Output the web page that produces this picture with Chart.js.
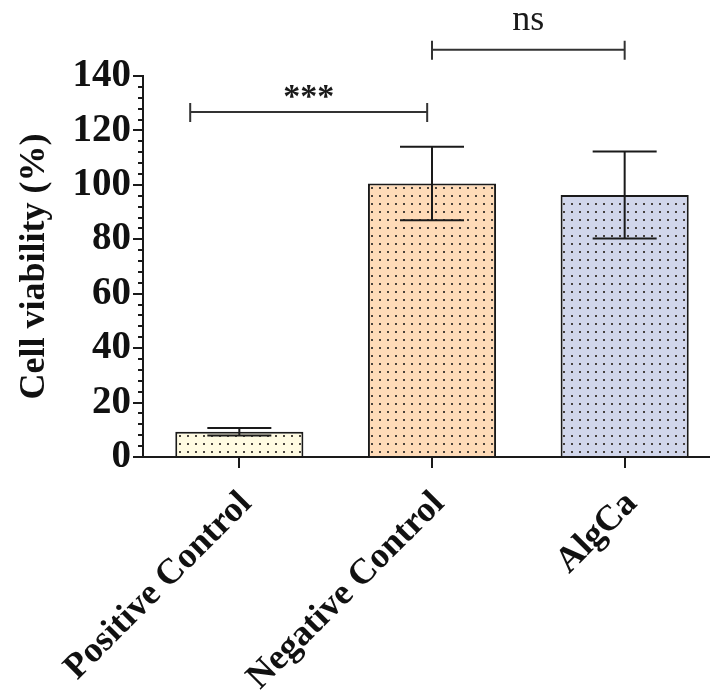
<!DOCTYPE html>
<html>
<head>
<meta charset="utf-8">
<script src="https://cdn.jsdelivr.net/npm/chart.js@4.4.1/dist/chart.umd.min.js"></script>
<style>
  html, body { margin: 0; padding: 0; background: #ffffff; overflow: hidden; }
  #wrap { width: 721px; height: 692px; }
</style>
</head>
<body>
<div id="wrap"><canvas id="c" width="721" height="692"></canvas></div>
<script>
// ---- data ----
const categories = ['Positive Control', 'Negative Control', 'AlgCa'];
const viability = [9.3, 100.5, 96.3];
const errors = [1.4, 13.5, 16.0];
const yTicks = [0, 20, 40, 60, 80, 100, 120, 140];
// significance brackets: [startX (category units), endX, y value, label]
const sigStart = [-0.255, 1.0];
const sigEnd = [0.975, 2.0];
const sigY = [126.8, 149.6];
const sigLabels = ['***', 'ns'];

const fillColors = ['#fffbe2', '#fedbb8', '#d1d6eb'];

function dotPattern(bg) {
  const p = document.createElement('canvas');
  p.width = 8; p.height = 8;
  const g = p.getContext('2d');
  g.fillStyle = bg; g.fillRect(0, 0, 8, 8);
  g.fillStyle = 'rgba(55,50,45,0.9)';
  g.fillRect(3, 3, 2, 2);
  return g.createPattern(p, 'repeat');
}

const SERIF = '"Liberation Serif", "Times New Roman", serif';

const extrasPlugin = {
  id: 'extras',
  afterDatasetsDraw(chart) {
    const ctx = chart.ctx;
    const xs = chart.scales.x, ys = chart.scales.y;
    ctx.save();
    // error bars
    ctx.strokeStyle = '#1a1a1a';
    ctx.lineWidth = 2;
    viability.forEach((v, i) => {
      const x = xs.getPixelForValue(i);
      const yt = ys.getPixelForValue(v + errors[i]);
      const yb = ys.getPixelForValue(v - errors[i]);
      ctx.beginPath();
      ctx.moveTo(x, yt); ctx.lineTo(x, yb);
      ctx.moveTo(x - 32, yt); ctx.lineTo(x + 32, yt);
      ctx.moveTo(x - 32, yb); ctx.lineTo(x + 32, yb);
      ctx.stroke();
    });
    // significance brackets
    ctx.strokeStyle = '#333333';
    ctx.fillStyle = '#1a1a1a';
    ctx.textAlign = 'center';
    sigLabels.forEach((lab, i) => {
      const x1 = xs.getPixelForValue(sigStart[i]);
      const x2 = xs.getPixelForValue(sigEnd[i]);
      const y = ys.getPixelForValue(sigY[i]);
      ctx.beginPath();
      ctx.moveTo(x1, y); ctx.lineTo(x2, y);
      ctx.moveTo(x1, y - 9); ctx.lineTo(x1, y + 10);
      ctx.moveTo(x2, y - 9); ctx.lineTo(x2, y + 10);
      ctx.stroke();
      if (lab === 'ns') {
        ctx.font = '36px ' + SERIF;
        ctx.textBaseline = 'alphabetic';
        ctx.fillText(lab, (x1 + x2) / 2, y - 20);
      } else {
        ctx.font = 'bold 34px ' + SERIF;
        ctx.textBaseline = 'alphabetic';
        ctx.fillText(lab, (x1 + x2) / 2, y - 5);
      }
    });
    // minor ticks on y axis
    ctx.strokeStyle = '#1a1a1a';
    ctx.lineWidth = 2;
    const left = ys.right;
    for (let v = 0; v <= 140; v += 4) {
      if (v % 20 === 0) continue;
      const y = Math.round(ys.getPixelForValue(v));
      ctx.beginPath();
      ctx.moveTo(left - 5, y); ctx.lineTo(left, y);
      ctx.stroke();
    }
    ctx.restore();
  }
};

new Chart(document.getElementById('c'), {
  type: 'bar',
  data: {
    labels: categories,
    datasets: [{
      data: viability,
      backgroundColor: fillColors.map(dotPattern),
      borderColor: '#1a1a1a',
      borderWidth: 2,
      barPercentage: 0.665,
      categoryPercentage: 1.0
    }]
  },
  options: {
    responsive: false,
    animation: false,
    layout: { padding: { top: 76, left: 0, right: 0, bottom: 0 } },
    plugins: { legend: { display: false }, tooltip: { enabled: false } },
    scales: {
      x: {
        offset: true,
        grid: { display: true, drawOnChartArea: false, drawTicks: true, tickLength: 11, offset: false, color: '#1a1a1a', lineWidth: 2 },
        border: { display: true, color: '#1a1a1a', width: 2 },
        ticks: {
          autoSkip: false, maxRotation: 45, minRotation: 45,
          color: '#111', padding: 15, labelOffset: 7,
          font: { family: SERIF, size: 36, weight: 'bold' }
        },
        afterFit(scale) { scale.height = 235; }
      },
      y: {
        min: 0, max: 140,
        afterBuildTicks(scale) { scale.ticks = yTicks.map(v => ({ value: v })); },
        grid: { display: true, drawOnChartArea: false, drawTicks: true, tickLength: 10, color: '#1a1a1a', lineWidth: 2 },
        border: { display: true, color: '#1a1a1a', width: 2 },
        ticks: {
          color: '#111', padding: 2,
          font: { family: SERIF, size: 39, weight: 'bold' }
        },
        title: {
          display: true, text: 'Cell viability (%)', color: '#111',
          font: { family: SERIF, size: 36, weight: 'bold', lineHeight: 1 },
          padding: { top: 17, bottom: 0 }
        },
        afterFit(scale) { scale.width = 143; }
      }
    }
  },
  plugins: [extrasPlugin]
});
</script>
</body>
</html>
